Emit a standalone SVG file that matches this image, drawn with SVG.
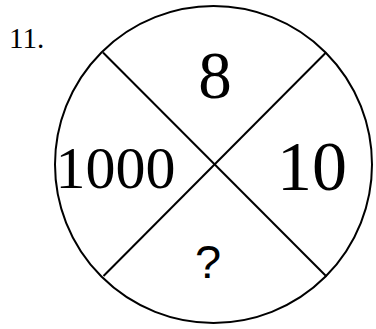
<svg xmlns="http://www.w3.org/2000/svg" width="376" height="329" viewBox="0 0 376 329">
<style>
.t{font-family:"Liberation Serif","Times New Roman",serif;fill:#000}
.s{fill:none;stroke:#000;stroke-width:2}
</style>
<rect width="376" height="329" fill="#fff"/>
<text class="t" x="9" y="48" font-size="29">11.</text>
<g id="circle"><circle class="s" cx="213.5" cy="164.5" r="158.5"/></g>
<g id="connectors">
<line class="s" x1="103" y1="52.5" x2="326.5" y2="276.5"/>
<line class="s" x1="326" y1="52.5" x2="103.5" y2="276"/>
</g>
<g id="top"><text class="t" x="215" y="98" font-size="67" text-anchor="middle">8</text></g>
<g id="left"><text class="t" x="55.4" y="188" font-size="60">1000</text></g>
<g id="right"><text class="t" x="277" y="190" font-size="70">10</text></g>
<g id="bottom"><text x="208" y="278" font-size="47" text-anchor="middle" font-family="'Liberation Sans',Arial,sans-serif" font-weight="normal">?</text></g>
</svg>
